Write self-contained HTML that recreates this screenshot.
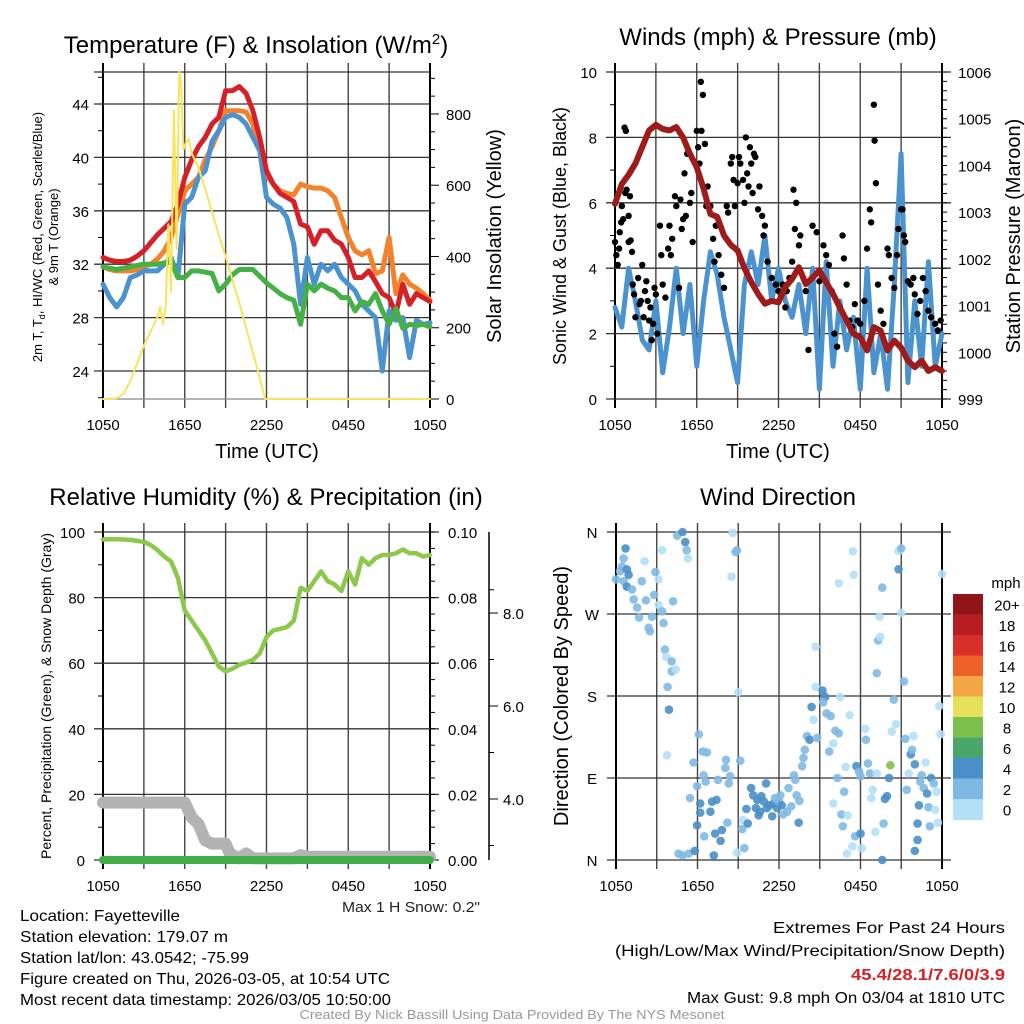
<!DOCTYPE html>
<html><head><meta charset="utf-8"><style>
html,body{margin:0;padding:0;background:#fff;}
svg{display:block;font-family:"Liberation Sans",sans-serif;}
</style></head><body>
<svg id="fig" width="1024" height="1024" viewBox="0 0 1024 1024" xmlns="http://www.w3.org/2000/svg">
<g id="layer"></g>
</svg>
<script>
// ---------- DATA ----------
const hrs = [0,0.5,1,1.5,2,2.5,3,3.5,4,4.5,5,5.5,6,6.5,7,7.5,8,8.5,9,9.5,10,10.5,11,11.5,12,12.5,13,13.5,14,14.5,15,15.5,16,16.5,17,17.5,18,18.5,19,19.5,20,20.5,21,21.5,22,22.5,23,23.5,24];
const tempRed = [32.5,32.3,32.2,32.2,32.3,32.6,33,33.6,34.2,34.7,35.2,36.5,38.5,39.8,40.8,41.5,42.5,43,45,45,45.3,44.8,43.5,41.5,39,38,37.3,37,36.7,35,34.8,33.5,34.5,34.5,33.8,33.5,32.5,31,31,31.5,30.7,29.8,29.5,28.3,30.5,29,29.8,29.5,29.2];
const temp9m = [31.8,31.6,31.5,31.5,31.5,31.6,31.8,32,32.4,33,34,35.7,37.5,38,38.5,39.8,40.8,42,43.5,43.5,43.5,43.4,42.5,40.5,38.7,38,37.5,37.3,37.2,38,37.8,37.7,37.7,37.5,37,35.5,34,33,32.7,33,31.3,31.5,34,29.8,31.2,30.5,30.2,29.8,29.3];
const tempBlue = [30.5,29.5,28.8,29.5,31,31.2,31.5,31.5,31.5,32,32.5,31,36.5,37,38.5,39,41.2,42,43,43.2,43,42.5,41.5,40.5,37,36.5,36.2,35.5,33.5,29,32.5,30.5,32,31.5,32,31,30.5,30,29,28.5,28,24,28.5,27.8,28,25,27.8,27.5,27.6];
const dewGreen = [31.8,31.7,31.6,31.7,31.8,31.9,32,32,32,32.1,32.2,31,31,31.5,31.5,31.4,31.3,30,30.5,31.2,31.6,31.6,31.6,31.1,30.6,30.2,29.8,29.5,29.3,27.5,30.5,30,30.5,30.2,30,29.5,29.5,28.5,29.2,29,29.8,28.5,27.5,28.7,27.2,27.5,27.4,27.5,27.3];
const solarHrs = [0,1,1.5,2,2.5,3,3.5,4,4.2,4.4,4.6,4.8,5,5.2,5.4,5.6,5.75,5.9,6.1,6.3,6.5,7,7.5,8,8.5,9,9.5,10,10.5,11,11.5,11.9,12.5,24];
const solarVals = [0,2,15,50,100,150,190,230,260,210,260,490,300,810,420,920,880,700,720,730,690,650,590,525,460,400,335,270,200,130,60,0,0,0];
const windSonic = [2.8,2.2,4.0,3.0,1.8,1.5,3.0,0.8,2.2,4.0,2.0,3.5,1.0,3.0,4.5,3.8,2.5,1.5,0.5,3.5,4.5,3.5,5.0,3.0,4.0,3.0,2.5,3.5,2.0,4.0,0.3,4.2,1.0,3.0,1.5,2.5,0.3,4.0,0.8,2.0,0.3,3.5,7.5,0.5,3.0,1.0,4.2,1.0,2.0];
const pressure = [1003.18,1003.6,1003.8,1004.04,1004.4,1004.75,1004.87,1004.78,1004.75,1004.82,1004.6,1004.25,1003.96,1003.5,1002.96,1002.9,1002.5,1002.3,1002.18,1001.8,1001.5,1001.25,1001.04,1001.1,1001.07,1001.4,1001.57,1001.82,1001.46,1001.6,1001.75,1001.5,1001.25,1000.96,1000.68,1000.4,1000.32,1000.04,1000.54,1000.46,1000.04,1000.25,1000.1,999.82,999.68,999.82,999.6,999.68,999.6];
const gustHrs = [0,0.1,0.2,0.3,0.35,0.45,0.5,0.6,0.7,0.8,0.75,0.85,1.0,1.0,1.1,1.15,1.25,1.3,1.4,1.5,1.7,1.8,1.9,2.0,2.1,2.2,2.3,2.4,2.5,2.6,2.7,2.8,2.9,3.0,3.1,3.3,3.4,3.5,3.7,3.9,4.0,4.1,4.2,4.4,4.5,4.7,4.8,4.9,5.0,5.1,5.2,5.3,5.5,5.6,5.7,5.9,6.0,6.1,6.2,6.3,6.35,6.45,6.6,6.7,6.8,7.0,7.2,7.3,7.4,7.6,7.8,8.0,8.2,8.3,8.5,8.6,8.7,8.8,9.0,9.1,9.2,9.4,9.5,9.6,9.7,9.8,9.9,10.0,10.1,10.2,10.3,10.5,10.6,10.8,10.9,11.0,11.2,11.5,11.8,12.0,12.3,12.5,12.6,12.8,13.0,13.1,13.2,13.3,13.5,13.6,14.0,14.2,14.5,14.8,15.0,15.3,15.5,15.7,15.9,16.1,16.3,16.5,16.7,16.8,17.0,17.2,17.4,17.6,17.8,18.0,18.3,18.5,18.7,18.8,19.0,19.05,19.15,19.3,19.5,19.7,20.0,20.1,20.3,20.5,20.7,20.8,21.0,21.1,21.2,21.3,21.5,21.7,21.9,22.0,22.2,22.4,22.6,22.8,23.0,23.2,23.5,23.7,23.9];
const gustVals = [4.8,4.4,4.1,4.6,5.1,5.4,5.9,5.5,8.3,8.2,6.3,6.4,5.6,4.8,6.2,4.85,4.5,3.5,3.2,2.5,3.7,2.9,3.0,4.1,2.5,3.3,3.6,3.0,2.4,2.8,1.8,2.3,3.4,3.2,2.0,5.3,4.4,3.5,3.1,4.6,5.3,4.4,4.9,6.2,5.9,3.4,6.1,5.2,5.5,6.9,5.6,7.5,6.0,6.3,4.8,7.2,8.2,7.7,7.2,9.7,8.2,9.3,7.8,5.9,6.5,5.9,4.9,4.2,5.3,4.4,3.8,3.4,5.9,5.7,7.2,7.4,6.7,5.9,6.6,7.4,7.2,6.7,6.0,8.0,6.9,6.5,7.7,7.2,6.3,7.5,7.4,5.8,6.5,5.6,5.0,5.3,4.2,3.7,3.5,3.3,3.5,2.8,3.3,3.7,4.2,6.4,5.2,6.0,4.7,5.0,3.3,1.5,5.3,5.1,3.6,4.7,4.4,4.1,3.3,2.0,1.6,2.8,5.0,4.3,3.5,2.4,2.2,2.9,2.4,2.3,3.0,4.6,5.8,5.4,9.0,7.9,6.6,3.5,2.7,2.3,4.6,4.4,3.7,3.4,4.4,5.2,5.8,5.8,5.0,4.8,3.6,3.5,3.7,3.2,2.6,3.0,3.7,3.3,2.7,2.5,2.3,2.1,2.4];
const rhVals = [97.7,97.8,97.8,97.7,97.6,97.3,97,96,94.5,92.5,91,86,76,73,70,67,63,59,57.5,58.3,59.5,60.2,61,63,68,70,70.5,71,73,83,82,85,88,85,84,82,88,84,92,90,92,93,93,93.5,94.7,93.5,93.5,92.5,93];
const snowHrs = [0,6,6.5,7,7.5,8,9,9.3,10,10.5,11,14,14.5,15,24];
const snowVals = [17.5,17.5,13,11,6,5,5,2,0.5,2,0.5,0.5,1.5,1,1];
const precipVals = [0,0];
const precipHrs = [0,24];
const dirHrs = [0.56,0,0.3,0.7,0.56,0.44,0.8,0.93,0.8,1.18,1.3,1.55,1.7,1.9,2.1,2.2,2.4,2.5,2.65,2.8,2.9,3.14,3.14,3.4,3.5,3.6,3.7,4.1,4.1,4.4,3.8,3.9,3.75,4.2,3.4,4.5,4.9,5.1,5.2,5.3,4.6,4.9,5.35,5.8,5.7,5.97,6.1,5.45,5.97,6.2,6.2,6.45,6.6,6.4,6.7,6.5,6.95,7.07,7.2,7.3,7.4,7.5,7.7,7.8,8.05,8.1,8.3,8.4,8.2,8.6,8.8,8.9,8.5,9.0,9.15,8.9,9.45,9.3,9.35,9.6,9.7,9.95,10.1,10.3,10.4,10.5,10.6,10.7,10.9,11.05,11.1,11.3,11.5,11.6,11.7,11.85,12.0,12.1,12.2,12.3,12.6,12.7,12.9,13.1,13.2,13.3,13.5,13.45,13.7,13.8,13.9,14.06,14.25,14.4,14.55,14.7,14.7,14.8,15.2,15.4,15.25,15.5,15.7,15.8,16.0,16.0,16.15,16.4,16.5,16.3,16.4,16.6,16.7,16.8,16.9,17.0,17.05,17.2,17.4,17.45,17.5,17.6,17.7,17.9,18.0,18.0,18.1,18.35,18.4,18.55,18.7,18.8,18.9,19.1,19.2,19.2,19.3,19.4,19.45,19.6,19.7,19.8,19.95,20.1,20.2,20.3,20.45,20.6,20.8,20.8,21.0,21.0,21.2,21.3,21.4,21.55,21.7,21.8,21.9,22.0,22.2,22.2,22.3,22.4,22.5,22.65,22.8,22.9,23.0,23.1,23.2,23.4,23.5,23.6,23.7,23.8,23.9,24,22.0,19.6];
const dirDeg = [306,308,317,342,331,322,319,313,300,297,286,277,266,306,328,285,255,251,267,291,316,308,280,273,260,231,223,218,207,209,190,165,115,284,340,356,360,349,340,331,7,5,7,10,107,81,138,68,38,62,52,93,86,119,118,26,53,64,5,29,66,88,21,33,101,110,84,92,41,359,338,340,311,184,109,8,13,34,44,56,40,79,71,57,66,49,53,70,64,84,57,60,48,62,68,57,64,71,60,50,53,79,59,93,88,71,65,41,103,112,121,136,132,168,154,190,234,134,186,179,173,161,119,158,62,128,142,139,179,90,304,50,37,75,102,7,49,159,15,339,313,26,103,97,92,29,13,144,132,106,95,68,77,31,95,205,241,267,245,299,40,67,70,90,104,141,176,149,319,339,342,271,196,133,77,95,116,121,136,105,40,22,60,86,93,79,107,73,58,37,90,84,55,75,41,169,138,314,10,0];
const dirSpd = [2,2,2,4,2,2,4,4,4,2,2,2,2,2,0,2,2,2,2,2,2,0,0,2,2,2,0,2,2,0,2,4,0,2,0,2,4,4,2,0,2,2,2,4,2,2,2,2,4,4,4,2,2,2,2,2,4,4,4,4,4,2,4,4,2,2,2,2,2,0,2,2,0,0,2,0,2,2,0,4,4,4,4,4,4,4,4,4,4,4,4,4,4,4,2,4,2,2,4,2,2,2,2,2,2,2,2,4,2,2,2,2,4,4,0,0,0,2,4,4,2,2,2,2,0,0,2,2,0,2,0,2,2,2,0,0,0,0,0,0,0,2,4,2,2,4,0,0,2,2,2,0,0,0,0,2,2,0,0,2,2,4,4,4,8,0,2,0,4,0,2,0,2,2,2,0,4,2,0,4,4,4,4,2,2,2,0,4,2,2,4,2,0,0,0,0,0,0];
const xTickLabels = ["1050","1650","2250","0450","1050"];
const tempTicks = [24,28,32,36,40,44];
const solarTicks = [0,200,400,600,800];
const windTicks = [0,2,4,6,8,10];
const presTicks = [999,1000,1001,1002,1003,1004,1005,1006];
const rhTicks = [0,20,40,60,80,100];
const precipTicks = ["0.00","0.02","0.04","0.06","0.08","0.10"];
const snowAxisTicks = [4,6,8];
const dirLabels = ["N","E","S","W","N"];
const cbarLabels = ["20+","18","16","14","12","10","8","6","4","2","0"];
const cbarColors = ["#8f1518","#b81d24","#d7302a","#ee6229","#f6a745","#e6e05a","#7cc24a","#4aa66c","#4a8fc7","#7fb9e3","#b3e0f6"];

// ---------- HELPERS ----------
const NS="http://www.w3.org/2000/svg";
const layer=document.getElementById('layer');
function el(tag,attrs,parent){const e=document.createElementNS(NS,tag);for(const k in attrs)e.setAttribute(k,attrs[k]);(parent||layer).appendChild(e);return e;}
function txt(s,x,y,size,anchor,extra){const t=el('text',Object.assign({x:x,y:y,'font-size':size,'text-anchor':anchor||'middle',fill:'#000'},extra||{}));t.textContent=s;return t;}
function line(x1,y1,x2,y2,stroke,w){return el('line',{x1:x1,y1:y1,x2:x2,y2:y2,stroke:stroke,'stroke-width':w});}
function path(xs,ys,fx,fy,stroke,w){let d='';for(let i=0;i<xs.length;i++){d+=(i?'L':'M')+fx(xs[i]).toFixed(1)+' '+fy(ys[i]).toFixed(1);}return el('path',{d:d,fill:'none',stroke:stroke,'stroke-width':w,'stroke-linejoin':'round','stroke-linecap':'round'});}

function frame(L,R,T,B,hy,extendRight){
  const g=el('g',{});
  
  
  for(let k=0;k<=8;k++){const x=L+(R-L)*k/8;el('line',{x1:x,y1:T-9,x2:x,y2:B+9,stroke:(k===0||k===8)?'#000':'#444','stroke-width':(k===0||k===8)?2:1.4},g);}
  hy.forEach(y=>{el('line',{x1:L-9,y1:y,x2:R+(extendRight?9:0),y2:y,stroke:'#333','stroke-width':1.3},g);});
  return g;
}
function xLabels(L,R,y){
  xTickLabels.forEach((s,i)=>{const t=txt(s,L+(R-L)*i/4,y,15);
    
    });
}

// ---------- PANEL 1: Temperature ----------
(function(){
  const L=103,R=430,T=72,B=399;
  const X=h=>L+h*(R-L)/24;
  const Y=v=>104+(44-v)*13.35;
  const YS=v=>B-v*0.3563;
  frame(L,R,T,B,tempTicks.map(Y).concat([T]),false);
  line(L,B,R,B,'#888',1.3);
  [22,26,30,34,38,42,46].forEach(v=>{if(Y(v)>=T&&Y(v)<=B)line(L-5,Y(v),L,Y(v),'#000',1);});
  for(let v=0;v<=900;v+=50){const y=YS(v);line(R,y,R+(v%200===0?9:5),y,'#000',1);}
  tempTicks.forEach(v=>{const t=txt(String(v),L-14,Y(v)+6,15,'end');
    
    });
  solarTicks.forEach(v=>{const t=txt(String(v),R+16,YS(v)+6,15,'start');
    
    });
  xLabels(L,R,430);
  const s1=path(hrs,temp9m,X,Y,'#f4812b',5);
  
  
  const s2=path(hrs,tempBlue,X,Y,'#4b93cf',5);
  
  
  const s3=path(hrs,tempRed,X,Y,'#d62027',5);
  
  
  const s4=path(hrs,dewGreen,X,Y,'#44b045',5);
  
  
  const s5=path(solarHrs,solarVals,X,YS,'#f8e45c',2);
  
  
  const t=txt('Temperature (F) & Insolation (W/m',256,53,24);
  
  
  const sup=el('tspan',{dy:-9,'font-size':15},t);sup.textContent='2';
  const cl=el('tspan',{dy:9},t);cl.textContent=')';
  const xl=txt('Time (UTC)',267,458,20);
  
  
  const yl=el('text',{transform:'translate(42,237) rotate(-90)','font-size':13,'text-anchor':'middle'});
  
  
  yl.innerHTML='2m T, T<tspan font-size="9" dy="3">d</tspan><tspan dy="-3">, HI/WC (Red, Green, Scarlet/Blue)</tspan>';
  const yl2=txt('& 9m T (Orange)',0,0,13,'middle',{transform:'translate(58,237) rotate(-90)'});
  
  
  const yr=txt('Solar Insolation (Yellow)',0,0,20,'middle',{transform:'translate(501,236) rotate(-90)'});
  
  
})();

// ---------- PANEL 2: Winds ----------
(function(){
  const L=615,R=942,T=72,B=399;
  const X=h=>L+h*(R-L)/24;
  const Y=v=>B-v*32.7;
  const YP=p=>B-(p-999)*46.71;
  frame(L,R,T,B,windTicks.map(Y),true);
  [1,3,5,7,9].forEach(v=>line(L-5,Y(v),L,Y(v),'#000',1));
  for(let p=999;p<=1006.001;p+=0.2){const y=YP(p);line(R,y,R+5,y,'#000',1);}
  windTicks.forEach(v=>{const t=txt(String(v),L-18,Y(v)+6,15,'end');
    
    });
  presTicks.forEach(v=>{const t=txt(String(v),R+16,YP(v)+6,15,'start');
    
    });
  xLabels(L,R,430);
  const w=path(hrs,windSonic,X,Y,'#4b93cf',5);
  
  
  gustHrs.forEach((h,i)=>{const c=el('circle',{cx:X(h),cy:Y(gustVals[i]),r:3.2,fill:'#000'});
    
    });
  const p=path(hrs,pressure,X,YP,'#9e1b1b',6);
  
  
  const t=txt('Winds (mph) & Pressure (mb)',778,45,24);
  
  
  const xl=txt('Time (UTC)',778,458,20);
  
  
  const yl=txt('Sonic Wind & Gust (Blue, Black)',0,0,18,'middle',{transform:'translate(566,236) rotate(-90)'});
  
  
  const yr=txt('Station Pressure (Maroon)',0,0,20,'middle',{transform:'translate(1020,236) rotate(-90)'});
  
  
})();

// ---------- PANEL 3: RH ----------
(function(){
  const L=103,R=430,T=532,B=860;
  const X=h=>L+h*(R-L)/24;
  const Y=v=>B-v*3.28;
  frame(L,R,T,B,rhTicks.map(Y),true);
  [10,30,50,70,90].forEach(v=>line(L-5,Y(v),L,Y(v),'#000',1));
  for(let v=0;v<=100;v+=5){line(R,Y(v),R+5,Y(v),'#000',1);}
  rhTicks.forEach(v=>{const t=txt(String(v),L-18,Y(v)+6,15,'end');
    
    });
  precipTicks.forEach((s,i)=>{const t=txt(s,R+18,Y(i*20)+6,15,'start');
    
    });
  const SA=v=>799-(v-4)*46.5;
  const ax=line(489,532,489,860,'#000',1.5);
  
  
  [3,5,7,8.5].forEach(v=>line(489,SA(v),494,SA(v),'#000',1));
  snowAxisTicks.forEach(v=>{line(489,SA(v),498,SA(v),'#000',1);
    const t=txt(v.toFixed(1),503,SA(v)+6,15,'start');
    
    });
  xLabels(L,R,891);
  const sn=path(snowHrs,snowVals,X,Y,'#b3b3b3',12);
  
  
  const pr=path(precipHrs,precipVals,X,Y,'#3fae49',8);
  
  
  const rh=path(hrs,rhVals,X,Y,'#8cc84b',4.5);
  
  
  const t=txt('Relative Humidity (%) & Precipitation (in)',266,505,24);
  
  
  const yl=txt('Percent, Precipitation (Green), & Snow Depth (Gray)',0,0,14,'middle',{transform:'translate(51,696) rotate(-90)'});
  
  
  const ms=txt('Max 1 H Snow: 0.2"',480,912,15,'end',{fill:'#222',textLength:138,lengthAdjust:'spacingAndGlyphs'});
  
  
})();

// ---------- PANEL 4: Wind direction ----------
(function(){
  const L=616,R=942,T=532,B=860;
  const X=h=>L+h*(R-L)/24;
  const Y=d=>B-d*(B-T)/360;
  frame(L,R,T,B,[0,90,180,270,360].map(Y),true);
  dirLabels.forEach((s,i)=>{const t=txt(s,L-24,Y(i*90)+6,15,'middle');
    
    });
  xLabels(L,R,891);
  const colorFor={0:'#b3e0f6',2:'#7fb9e3',4:'#4a8fc7',6:'#4aa66c',8:'#7cc24a'};
  dirHrs.forEach((h,i)=>{const c=el('circle',{cx:X(h),cy:Y(dirDeg[i]),r:4.3,fill:colorFor[dirSpd[i]]||'#4a8fc7','fill-opacity':0.9});
    
    });
  const t=txt('Wind Direction',778,505,24);
  
  
  const yl=txt('Direction (Colored By Speed)',0,0,20,'middle',{transform:'translate(568,696) rotate(-90)'});
  
  
  const cbT=594,cbH=20.5;
  cbarColors.forEach((c,i)=>{const r=el('rect',{x:953,y:cbT+i*cbH,width:30,height:cbH+0.5,fill:c});
    
    
    const t=txt(cbarLabels[i],1007,cbT+i*cbH+cbH/2+6,15,'middle');
    
    });
  const u=txt('mph',1006,588,15,'middle');
  
  
})();

// ---------- FOOTER ----------
const leftLines=[["Location: Fayetteville",921,160],["Station elevation: 179.07 m",942,208],["Station lat/lon: 43.0542; -75.99",963,229],["Figure created on Thu, 2026-03-05, at 10:54 UTC",984,370],["Most recent data timestamp: 2026/03/05 10:50:00",1005,371]];
leftLines.forEach(l=>{const t=txt(l[0],20,l[1],16,'start',{textLength:l[2],lengthAdjust:'spacingAndGlyphs'});
  
  });
const rightLines=[["Extremes For Past 24 Hours",933,232,'#000','normal'],["(High/Low/Max Wind/Precipitation/Snow Depth)",956,390,'#000','normal'],["45.4/28.1/7.6/0/3.9",980,154,'#d62027','bold'],["Max Gust: 9.8 mph On 03/04 at 1810 UTC",1003,318,'#000','normal']];
rightLines.forEach(l=>{const t=txt(l[0],1005-l[2],l[1],16,'start',{textLength:l[2],lengthAdjust:'spacingAndGlyphs',fill:l[3],'font-weight':l[4]});
  
  });
const cr=txt('Created By Nick Bassill Using Data Provided By The NYS Mesonet',512,1019,13,'middle',{fill:'#999',textLength:425,lengthAdjust:'spacingAndGlyphs'});


</script>
</body></html>
